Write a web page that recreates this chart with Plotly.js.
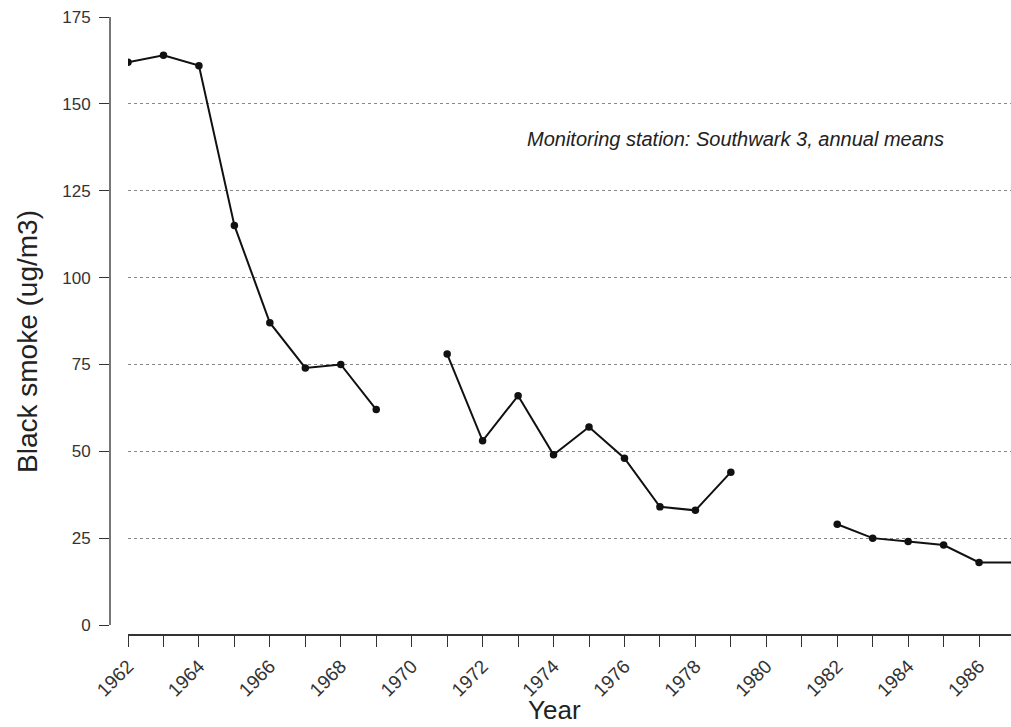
<!DOCTYPE html>
<html>
<head>
<meta charset="utf-8">
<script src="https://cdn.plot.ly/plotly-3.0.1.min.js"></script>
<style>html,body{margin:0;padding:0;background:#fff;}#chart{width:1011px;height:727px;}</style>
</head>
<body>
<div id="chart"></div>
<script>
const years = [1962,1963,1964,1965,1966,1967,1968,1969,1970,1971,1972,1973,1974,1975,1976,1977,1978,1979,1980,1981,1982,1983,1984,1985,1986,1987];
const smoke = [162,164,161,115,87,74,75,62,null,78,53,66,49,57,48,34,33,44,null,null,29,25,24,23,18,18];
const yTicks = [0,25,50,75,100,125,150,175];
const gridTicks = [25,50,75,100,125,150];
const xLabels = years.map(y => (y % 2 === 0 ? String(y) : ''));
const note = 'Monitoring station: Southwark 3, annual means';
const xTitle = 'Year';
const yTitle = 'Black smoke (ug/m3)';

const font = 'Liberation Sans, Arial, Helvetica, sans-serif';
const W = 1011, H = 727;
const mL = 110, mR = 0, mT = 17, mB = 92;
const pw = W - mL - mR, ph = H - mT - mB;

const trace = {
  x: years, y: smoke, type: 'scatter', mode: 'lines+markers',
  connectgaps: false,
  line: {color: '#111', width: 2},
  marker: {color: '#111', size: 7.5, symbol: 'circle'},
  hoverinfo: 'x+y'
};

const layout = {
  width: W, height: H,
  margin: {l: mL, r: mR, t: mT, b: mB},
  paper_bgcolor: '#fff', plot_bgcolor: '#fff',
  showlegend: false,
  font: {family: font, color: '#222'},
  xaxis: {
    domain: [(128 - mL) / pw, 1],
    anchor: 'free', position: 0,
    range: [1962, 1986.9],
    tickvals: years, ticktext: xLabels,
    tickangle: -45,
    ticks: 'outside', ticklen: 11, tickwidth: 1.2, tickcolor: '#333',
    ticklabelstandoff: 1,
    showline: true, linecolor: '#333', linewidth: 1.5,
    showgrid: false, zeroline: false,
    tickfont: {size: 19, color: '#333', family: font}
  },
  yaxis: {
    domain: [(635 - 625) / ph, 1],
    anchor: 'free', position: 0,
    range: [0, 175],
    tickvals: yTicks,
    ticks: 'outside', ticklen: 10, tickwidth: 1.2, tickcolor: '#333',
    ticklabelstandoff: 5,
    showline: true, linecolor: '#777', linewidth: 2,
    showgrid: false, zeroline: false,
    tickfont: {size: 17, color: '#333', family: font}
  },
  yaxis2: {
    overlaying: 'y', matches: 'y',
    domain: [(635 - 625) / ph, 1],
    range: [0, 175],
    tickvals: gridTicks,
    showticklabels: false, ticks: '',
    showline: false, zeroline: false,
    showgrid: true, gridcolor: '#888', gridwidth: 1, griddash: 'dot'
  },
  annotations: [
    {
      text: note, showarrow: false,
      xref: 'paper', yref: 'y', x: (735 - mL) / pw, xanchor: 'center', y: 140, yanchor: 'middle',
      font: {size: 20, color: '#222', family: font, style: 'italic'}
    },
    {
      text: xTitle, showarrow: false,
      xref: 'paper', yref: 'paper', x: (554 - mL) / pw, xanchor: 'center',
      y: -(710 - 635) / ph, yanchor: 'middle',
      font: {size: 26, color: '#222', family: font}
    },
    {
      text: yTitle, showarrow: false, textangle: -90,
      xref: 'paper', yref: 'paper', x: (27 - mL) / pw, xanchor: 'center',
      y: (635 - 342) / ph, yanchor: 'middle',
      font: {size: 28, color: '#222', family: font}
    }
  ]
};

const gridTrace = {x: [], y: [], yaxis: 'y2', type: 'scatter', hoverinfo: 'skip'};

Plotly.newPlot('chart', [gridTrace, trace], layout, {displayModeBar: false});
</script>
</body>
</html>
